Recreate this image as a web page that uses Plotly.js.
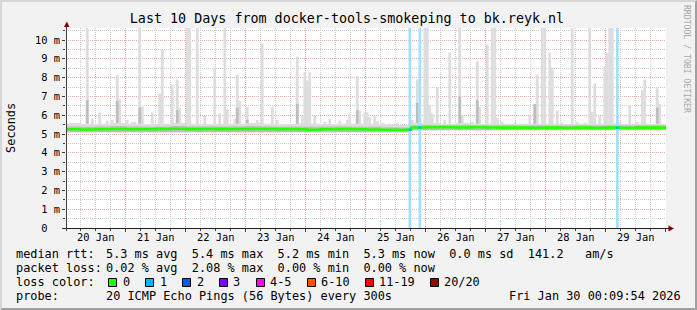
<!DOCTYPE html>
<html>
<head>
<meta charset="utf-8">
<script src="https://cdn.plot.ly/plotly-3.0.1.min.js"></script>
<style>
html,body{margin:0;padding:0;background:#f2f2f2;}
#frame{box-sizing:border-box;width:697px;height:310px;border-top:2px solid #d6d6d6;border-left:2px solid #d6d6d6;border-right:2px solid #a0a0a0;border-bottom:2px solid #a0a0a0;background:#f2f2f2;overflow:hidden;}
#chart{width:693px;height:306px;}
</style>
</head>
<body>
<div id="frame"><div id="chart"></div></div>
<script>
// ---------------- DATA ----------------
const titleText = 'Last 10 Days from docker-tools-smokeping to bk.reyk.nl';
const startTime = '2026-01-20 00:09:54';
const endTime = '2026-01-30 00:09:54';
const dayDates = ['2026-01-20','2026-01-21','2026-01-22','2026-01-23','2026-01-24','2026-01-25','2026-01-26','2026-01-27','2026-01-28','2026-01-29'];
const dayLabels = ['20 Jan','21 Jan','22 Jan','23 Jan','24 Jan','25 Jan','26 Jan','27 Jan','28 Jan','29 Jan'];
const yTickVals = [0,1,2,3,4,5,6,7,8,9,10];
const yTickText = ['0  ','1 m','2 m','3 m','4 m','5 m','6 m','7 m','8 m','9 m','10 m'];

// hours after start, 6-hour buckets (values in ms)
const bucketHours = [0,6,12,18,24,30,36,42,48,54,60,66,72,78,84,90,96,102,108,114,120,126,132,138,144,150,156,162,168,174,180,186,192,198,204,210,216,222,228,234,240];
const medianRtt = [5.25,5.24,5.25,5.27,5.25,5.25,5.27,5.28,5.26,5.27,5.26,5.27,5.27,5.27,5.26,5.25,5.23,5.25,5.26,5.25,5.24,5.23,5.23,
                   5.35,5.36,5.36,5.35,5.36,5.35,5.34,5.34,5.33,5.34,5.33,5.34,5.33,5.34,5.33,5.34,5.34,5.34];
const smokeLow  = [5.1,5.1,5.1,5.1,5.1,5.1,5.1,5.1,5.1,5.1,5.1,5.1,5.1,5.1,5.1,5.1,5.1,5.1,5.1,5.1,5.1,5.1,5.1,
                   5.2,5.2,5.2,5.2,5.2,5.2,5.2,5.2,5.2,5.2,5.2,5.2,5.2,5.2,5.2,5.2,5.2,5.2];
const smokeMid  = [5.4,5.38,5.4,5.42,5.4,5.38,5.4,5.42,5.4,5.4,5.4,5.4,5.42,5.4,5.38,5.4,5.38,5.4,5.4,5.38,5.38,5.36,5.35,
                   5.48,5.48,5.47,5.48,5.47,5.46,5.46,5.45,5.46,5.45,5.45,5.46,5.45,5.46,5.45,5.46,5.46,5.46];
const smokeHigh = [5.58,5.55,5.55,5.58,5.55,5.52,5.55,5.58,5.55,5.52,5.55,5.55,5.58,5.55,5.52,5.55,5.55,5.52,5.55,5.55,5.55,5.5,5.48,
                   5.6,5.58,5.55,5.58,5.55,5.55,5.52,5.55,5.55,5.55,5.52,5.55,5.55,5.58,5.52,5.55,5.55,5.55];

// hourly smoke spikes: hour after start, max ping (ms)
const spikeHours = [8,10,13,16,18,20,21,24,26,27,29,30,34,37,38,42,44,45,48,49,52,55,59,61,63,64,67,68,69,72,76,78,82,84,92,94,95,96,97,99,
                    103,105,109,112,113,116,117,119,120,121,123,124,126,129,132,138,140,143,144,145,146,148,151,153,157,158,162,164,165,168,
                    170,171,172,174,179,185,187,188,190,191,193,194,196,198,202,204,207,209,210,211,213,215,216,217,218,221,225,228,230,231,236,237];
const spikeMax = [10.7,5.83,6.15,5.7,5.75,8.12,6.85,5.75,5.65,5.65,10.7,6.45,6.15,7.16,9.47,7.64,7.9,6.4,10.7,10.7,10.7,5.98,8.55,6.1,10.7,6.3,5.8,8.17,6.77,6.45,5.75,9.82,6.45,5.75,9.12,5.95,8.3,7.85,8.28,6.0,
                  5.65,5.8,5.7,5.75,6.0,8.09,6.25,6.15,6.15,5.9,5.95,5.7,5.6,5.55,5.6,5.75,7.9,10.7,10.7,6.55,6.1,7.5,5.75,9.33,10.7,6.0,5.65,8.88,6.45,9.77,
                  10.7,10.7,5.85,5.65,5.6,6.0,6.6,8.17,10.7,10.7,9.33,8.55,6.25,5.6,10.7,5.65,5.6,10.7,6.18,7.7,5.95,8.58,9.33,10.7,10.7,5.6,6.55,5.65,7.34,7.9,7.43,6.6];
// denser part of the smoke in some spikes
const denseHours = [8,20,29,44,68,72,92,116,140,157,164,187,236];
const denseTop   = [6.8,6.75,6.4,6.26,6.4,5.75,6.6,6.25,6.65,7.0,6.8,6.6,6.4];
// hours with packet loss and number of lost pings
const lossHours = [137,141,220];
const lossPings = [1,1,1];

// legend
const lossColorLabels = ['0','1','2','3','4-5','6-10','11-19','20/20'];
const lossColors = ['#26ff00','#00b8ff','#0059ff','#7e00ff','#ff00ff','#ff5500','#ff0000','#a10000'];
const legendRtt = '5.3 ms avg  5.4 ms max  5.2 ms min  5.3 ms now  0.0 ms sd  141.2   am/s';
const legendLoss = '0.02 % avg  2.08 % max  0.00 % min  0.00 % now';
const legendProbe = '20 ICMP Echo Pings (56 Bytes) every 300s';
const stampText = 'Fri Jan 30 00:09:54 2026';
const watermark = 'RRDTOOL / TOBI OETIKER';

// ---------------- HELPERS ----------------
const MONO = 'DejaVu Sans Mono, monospace';
const HOUR = 3600e3;
const startMs = Date.parse(startTime.replace(' ','T')+'Z');
function tAt(h){ return new Date(startMs + h*HOUR).toISOString().replace('T',' ').slice(0,19); }
function bucketOf(h){ return Math.min(bucketHours.length-1, Math.floor(h/6)); }
const nb = s => s.replace(/ /g,'\u00a0');

const W=693, H=306, ML=64, MR=29, MT=26, MB=80, OFF=2;
const PW=W-ML-MR, PH=H-MT-MB;
const px = x => (x-OFF-ML)/PW;
const py = y => (H-MB-(y-OFF))/PH;
const YMAX = 10.64;

// ---------------- TRACES ----------------
const bx = bucketHours.map(tAt);
const traces = [];
traces.push({type:'bar', x:spikeHours.map(h=>tAt(h+0.5)), base:spikeHours.map(h=>smokeLow[bucketOf(h)]),
  y:spikeMax.map((v,i)=>v-smokeLow[bucketOf(spikeHours[i])]), width:1.1*HOUR,
  marker:{color:'#dddddd', line:{width:0}}, hoverinfo:'skip'});
traces.push({type:'bar', x:denseHours.map(h=>tAt(h+0.5)), base:denseHours.map(h=>smokeLow[bucketOf(h)]),
  y:denseTop.map((v,i)=>v-smokeLow[bucketOf(denseHours[i])]), width:1.1*HOUR,
  marker:{color:'#bdbdbd', line:{width:0}}, hoverinfo:'skip'});
traces.push({type:'scatter', mode:'lines', x:bx, y:smokeLow, line:{width:0, shape:'hv'}, hoverinfo:'skip'});
traces.push({type:'scatter', mode:'lines', x:bx, y:smokeHigh, line:{width:0, shape:'hv'}, fill:'tonexty', fillcolor:'#dddddd', hoverinfo:'skip'});
traces.push({type:'scatter', mode:'lines', x:bx, y:smokeLow, line:{width:0, shape:'hv'}, hoverinfo:'skip'});
traces.push({type:'scatter', mode:'lines', x:bx, y:smokeMid, line:{width:0, shape:'hv'}, fill:'tonexty', fillcolor:'#bebebe', hoverinfo:'skip'});
// loss background
const lbx=[], lby=[];
lossHours.forEach(h=>{ lbx.push(tAt(h),tAt(h+1.1),tAt(h+1.1),tAt(h),tAt(h),null); lby.push(0,0,YMAX,YMAX,0,null); });
traces.push({type:'scatter', mode:'lines', x:lbx, y:lby, fill:'toself', fillcolor:'#a3e1fb', line:{width:0}, hoverinfo:'skip'});
// median rtt
traces.push({type:'scatter', mode:'lines', x:bx, y:medianRtt, line:{color:'#26ff00', width:2.6, shape:'hv'}, hoverinfo:'skip'});
const lmx=[], lmy=[];
lossHours.forEach((h,i)=>{ const m=medianRtt[bucketOf(h)]; lmx.push(tAt(h),tAt(h+1.1),null); lmy.push(m,m,null); });
traces.push({type:'scatter', mode:'lines', x:lmx, y:lmy, line:{color:lossColors[lossPings[0]], width:2.6}, hoverinfo:'skip'});

// ---------------- LAYOUT ----------------
const annotations = [];
function ann(text, x, y, o){ annotations.push(Object.assign({text:nb(text), x:px(x), y:py(y), xref:'paper', yref:'paper', showarrow:false,
  xanchor:'left', yanchor:'middle', borderpad:0, borderwidth:0, font:{family:MONO, size:11.88, color:'#000'}}, o||{})); }

dayDates.forEach((d,i)=>annotations.push({text:nb(dayLabels[i]), x:d+' 12:00:00', xref:'x', y:py(237.4), yref:'paper',
  showarrow:false, xanchor:'center', yanchor:'middle', borderpad:0, borderwidth:0, font:{family:MONO, size:10.4, color:'#000'}}));

ann('Seconds', 10.9, 128, {xanchor:'center', textangle:-90});
ann(watermark, 687.1, 59, {xanchor:'center', textangle:90, font:{family:MONO, size:8.17, color:'#a8a8a8'}});
ann('median rtt:', 15.6, 254.2);
ann(legendRtt, 106.3, 254.2);
ann('packet loss:', 15.6, 267.9);
ann(legendLoss, 106.3, 267.9);
ann('loss color:', 15.6, 281.9);
ann('probe:', 15.6, 295.9);
ann(legendProbe, 106.3, 295.9);
ann(stampText, 681, 295.9, {xanchor:'right'});

const boxLeft = [108.5,145.5,182.5,219.5,256.5,307.5,365.5,430.5];
const boxLabelX = [123,159.6,196.7,233.3,270,321.3,379.2,444.3];
const shapes = [];
lossColorLabels.forEach((lab,i)=>{
  shapes.push({type:'rect', xref:'paper', yref:'paper', x0:px(boxLeft[i]), x1:px(boxLeft[i]+8), y0:py(278.5), y1:py(286.5),
    fillcolor:lossColors[i], line:{color:'#000', width:1}});
  ann(lab, boxLabelX[i], 281.9);
});
// axis extensions and arrows
shapes.push({type:'line', xref:'paper', yref:'paper', x0:px(63), x1:px(669), y0:py(228.5), y1:py(228.5), line:{color:'#202020', width:1}});
shapes.push({type:'line', xref:'paper', yref:'paper', x0:px(66.5), x1:px(66.5), y0:py(231), y1:py(26.5), line:{color:'#404040', width:1}});
shapes.push({type:'path', xref:'paper', yref:'paper', fillcolor:'#800000', line:{width:0},
  path:`M${px(66.8)},${py(21.5)} L${px(69.5)},${py(27)} L${px(64)},${py(27)} Z`});
shapes.push({type:'path', xref:'paper', yref:'paper', fillcolor:'#800000', line:{width:0},
  path:`M${px(674)},${py(228.5)} L${px(668.5)},${py(225.5)} L${px(668.5)},${py(231.5)} Z`});

const layout = {
  width:W, height:H, margin:{l:ML, r:MR, t:MT, b:MB, pad:0},
  paper_bgcolor:'#f2f2f2', plot_bgcolor:'#ffffff', showlegend:false, barmode:'overlay',
  font:{family:MONO, size:10.4, color:'#000'},
  title:{text:titleText, font:{family:MONO, size:13.36, color:'#000'}, xref:'container', yref:'container',
    x:(347-OFF)/W, xanchor:'center', y:1-(18.7-OFF)/H, yanchor:'middle'},
  xaxis:{type:'date', range:[startTime, endTime], tick0:'2026-01-20 00:00:00', dtick:86400000, showticklabels:false,
    ticks:'outside', ticklen:3, tickcolor:'#404040', showgrid:true, gridcolor:'#eeaaaa', griddash:'1px,1px', gridwidth:1,
    showline:false, zeroline:false, fixedrange:true,
    minor:{tick0:'2026-01-20 00:00:00', dtick:21600000, showgrid:true, gridcolor:'#cccccc', griddash:'1px,1px', ticks:'outside', ticklen:2, tickcolor:'#404040'}},
  yaxis:{range:[0, YMAX], tickmode:'array', tickvals:yTickVals, ticktext:yTickText.map(nb), ticks:'outside', ticklen:3, tickcolor:'#404040',
    showgrid:true, gridcolor:'#eeaaaa', griddash:'1px,1px', gridwidth:1, showline:false, zeroline:false, fixedrange:true,
    tickfont:{family:MONO, size:10.4, color:'#000'},
    minor:{tickmode:'linear', tick0:0, dtick:0.5, showgrid:true, gridcolor:'#cccccc', griddash:'1px,1px', ticks:'outside', ticklen:2, tickcolor:'#404040'}},
  shapes, annotations
};

Plotly.newPlot('chart', traces, layout, {staticPlot:true, displayModeBar:false});
</script>
</body>
</html>
